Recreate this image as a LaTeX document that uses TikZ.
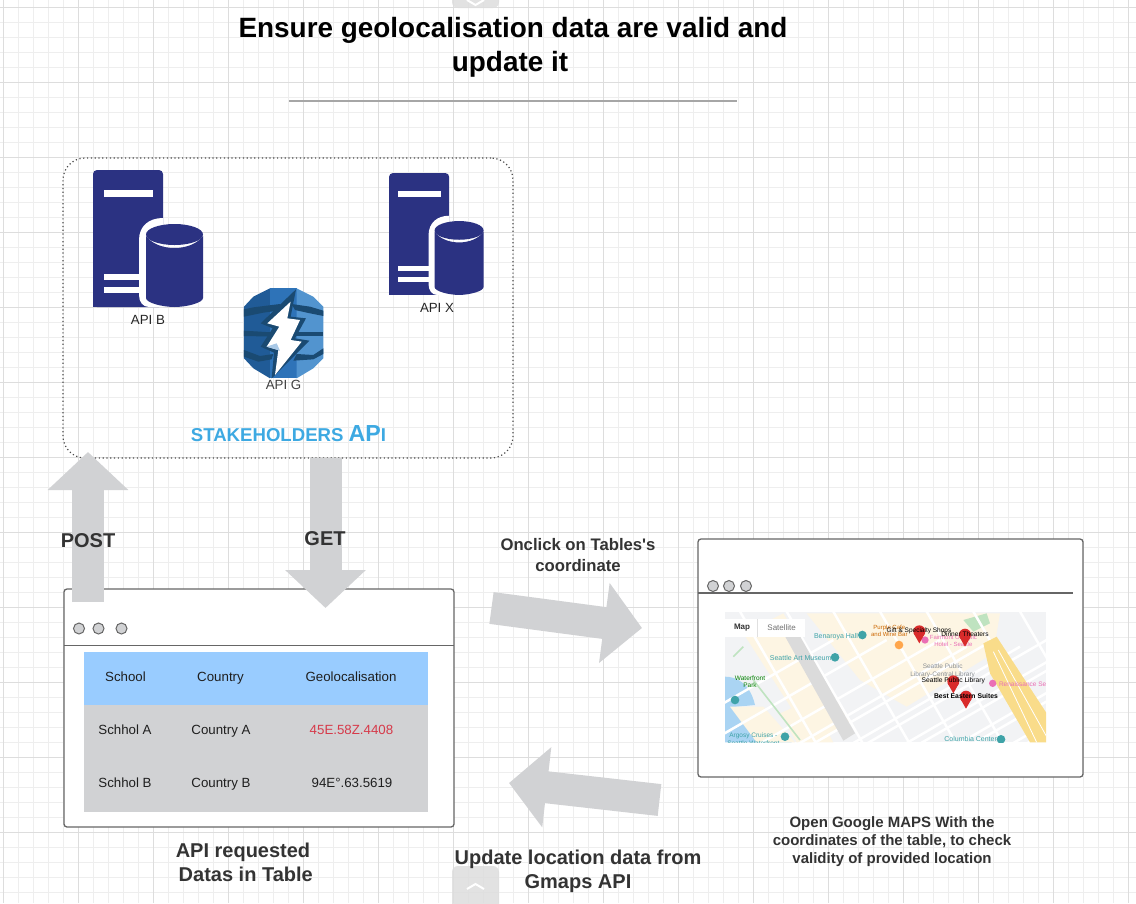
\documentclass[tikz,border=0pt]{standalone}
\usepackage{fontspec}
\setmainfont{Liberation Sans}
\usetikzlibrary{arrows.meta}
\definecolor{gridminor}{HTML}{EEEEEE}
\definecolor{gridmajor}{HTML}{DDDDDD}
\definecolor{navy}{HTML}{2B3282}
\definecolor{blockgrey}{HTML}{D1D2D4}
\definecolor{winline}{HTML}{666666}
\definecolor{headblue}{HTML}{99CCFF}
\definecolor{skyblue}{HTML}{3DA9E2}
\definecolor{inkdark}{HTML}{333333}
\definecolor{dyA}{HTML}{205B97}
\definecolor{dyB}{HTML}{2E73B8}
\definecolor{dyC}{HTML}{5294CF}
\definecolor{dyD}{HTML}{1A4A72}
\definecolor{mapbg}{HTML}{F2F3F5}
\definecolor{mapcream}{HTML}{FDF5E3}
\definecolor{mapwater}{HTML}{AAD4F3}
\definecolor{mapyellow}{HTML}{F9DC8A}
\definecolor{mapgreen}{HTML}{BFE3C0}
\definecolor{mapteal}{HTML}{3FA3A8}
\definecolor{mappink}{HTML}{EA6FB5}
\definecolor{mapgrey}{HTML}{8A8F94}
\definecolor{pinred}{HTML}{D92B2B}
\tikzset{
  blockarrow/.style={line width=32pt,draw=blockgrey,-{Triangle[length=38pt,width=78.5pt]}},
  winbox/.style={draw=winline,line width=1.3pt,fill=white,rounded corners=3pt,inner sep=0pt},
  winrule/.style={draw=winline,line width=1.3pt},
  windot/.style={circle,draw=winline,fill=blockgrey,line width=1pt,minimum size=11pt,inner sep=0pt},
  cell/.style={font=\fontsize{13.3}{15}\selectfont,text=black!88,anchor=base,yshift=-4.6pt},
  apilabel/.style={font=\fontsize{13.3}{15}\selectfont,text=black!85},
  boldlab/.style={font=\bfseries\fontsize{20}{24}\selectfont,text=inkdark,align=center},
  zoomframe/.style={x=0.33333pt,y=-0.33333pt},
  road/.style={draw=white,line width=2.5pt},
  maplabel/.style={font=\fontsize{7}{8}\selectfont,inner sep=0pt},
  tab/.style={fill=gridmajor,fill opacity=0.85,rounded corners=6pt},
  chevron/.style={draw=white,line width=2pt},
  server/.pic={
    \fill[navy,rounded corners=4pt] (0,0) -- (70,0) -- (70,137) -- (0,137) -- cycle;
    \fill[navy] (0,120) rectangle (20,137);
    \fill[white] (11,20) rectangle (60,27);
    \fill[white] (11,104) rectangle (60,110);
    \fill[white] (11,117) rectangle (60,123);
    \fill[white] (46,70) .. controls (46,56) and (56,48) .. (70,48) -- (70,137) -- (56,137) .. controls (50,137) and (46,132) .. (46,125) -- cycle;
    \fill[navy] (53,66) -- (53,128) .. controls (53,133) and (70,137) .. (81.5,137) .. controls (93,137) and (110,133) .. (110,128) -- (110,66) .. controls (104,74) and (93,78) .. (81.5,78) .. controls (70,78) and (59,74) .. (53,66) -- cycle;
    \fill[navy] (81.5,64.5) ellipse [x radius=28.5, y radius=10.5];
  }
}
\begin{document}
\begin{tikzpicture}[x=1pt,y=-1pt]
\useasboundingbox (0,0) rectangle (1136,903);
\fill[white] (0,0) rectangle (1136,903);
% grid
\foreach \gx in {18,33,...,1136} \draw[gridminor,line width=1pt] (\gx,0) -- (\gx,903);
\foreach \gy in {7,22,...,903} \draw[gridminor,line width=1pt] (0,\gy) -- (1136,\gy);
\foreach \gx in {3,78,...,1136} \draw[gridmajor,line width=1pt] (\gx,0) -- (\gx,903);
\foreach \gy in {7,82,...,903} \draw[gridmajor,line width=1pt] (0,\gy) -- (1136,\gy);
% tabs at page edges
\fill[tab] (452,-12) rectangle (499,8);
\draw[chevron] (467,0) -- (475.5,5) -- (484,0);
\fill[tab] (452,866) rectangle (499,915);
\draw[chevron] (467,889) -- (475.5,884) -- (484,889);
% title
\node[font=\bfseries\fontsize{27.9}{34}\selectfont,align=center,text=black] (title) at (513,47.5) {Ensure geolocalisation data are valid and\\update it\hspace*{6pt}};
\coordinate (ruleL) at (289,101);
\coordinate (ruleR) at (737,101);
\draw[draw=black!35,line width=1.2pt] (ruleL) -- (ruleR);
% API panel
\node[draw=black!70,dash pattern=on 1.2pt off 2.6pt,line width=1.2pt,rounded corners=22pt,minimum width=450pt,minimum height=300pt,inner sep=0pt] (panel) at (288,308) {};
\pic at (93,170) {server};
\node[apilabel] (apib) at (148,320) {API B};
\pic[xscale=0.86,yscale=0.89] at (389,173) {server};
\node[apilabel] (apix) at (437,308) {API X};
% DynamoDB icon
\begin{scope}[shift={(50,150)},zoomframe]
  \fill[dyA] (660,415) -- (610,440) -- (582,470) -- (582,625) -- (610,655) -- (660,685) -- cycle;
  \fill[dyB] (660,415) -- (740,415) -- (740,685) -- (660,685) -- cycle;
  \fill[dyC] (740,415) -- (790,440) -- (820,470) -- (820,625) -- (790,655) -- (740,685) -- cycle;
  \fill[dyD] (582,478) -- (610,472) -- (690,462) -- (700,480) -- (640,488) -- (582,500) -- cycle;
  \fill[dyD] (725,462) -- (780,470) -- (820,482) -- (820,498) -- (780,490) -- (735,480) -- cycle;
  \fill[dyD] (582,542) -- (680,548) -- (680,560) -- (582,558) -- cycle;
  \fill[dyD] (725,545) -- (820,545) -- (820,558) -- (725,558) -- cycle;
  \fill[dyD] (582,600) -- (630,618) -- (670,612) -- (665,628) -- (625,635) -- (582,620) -- cycle;
  \fill[dyD] (740,612) -- (790,615) -- (820,595) -- (820,612) -- (790,628) -- (730,632) -- cycle;
  \fill[dyD] (738,418) -- (722,500) -- (768,505) -- (735,565) -- (778,572) -- (665,685) -- (672,608) -- (632,590) -- (668,535) -- (632,520) -- cycle;
  \fill[white] (722,455) -- (652,520) -- (688,530) -- (650,590) -- (685,600) -- (675,675) -- (755,575) -- (722,570) -- (750,510) -- (712,505) -- cycle;
  \fill[dyC!50!white] (650,590) -- (680,580) -- (690,602) -- cycle;
\end{scope}
\node[apilabel,text=black!75] (apig) at (283.5,385) {API G};
\node[inner sep=0pt,font=\bfseries\fontsize{18.6}{20}\selectfont,text=skyblue] (stake) at (288.5,434) {STAKEHOLDERS {\fontsize{23.2}{20}\selectfont AP}I};
% left window
\node[winbox,minimum width=390pt,minimum height=238pt] (winL) at (259,708) {};
\coordinate (winLa) at (64,645.5);
\coordinate (winLb) at (454,645.5);
\draw[winrule] (winLa) -- (winLb);
\node[windot] (dotLa) at (79,628.5) {};
\node[windot] (dotLb) at (98.5,628.5) {};
\node[windot] (dotLc) at (121.5,628.5) {};
\node[fill=headblue,minimum width=344pt,minimum height=53.5pt,inner sep=0pt] (thead) at (256,678.7) {};
\node[fill=blockgrey,minimum width=344pt,minimum height=107pt,inner sep=0pt] (tbody) at (256,758.9) {};
\node[cell] (c11) at (125.5,677) {School};
\node[cell] (c12) at (220.5,677) {Country};
\node[cell] (c13) at (351,677) {Geolocalisation};
\node[cell] (c21) at (125,730) {Schhol A};
\node[cell] (c22) at (221,730) {Country A};
\node[cell,text={rgb,255:red,214;green,58;blue,74}] (c23) at (351.5,730) {45E.58Z.4408};
\node[cell] (c31) at (125,783) {Schhol B};
\node[cell] (c32) at (221,783) {Country B};
\node[cell] (c33) at (352,783) {94E°.63.5619};
% block arrows
\coordinate (postS) at (88,602);
\coordinate (postE) at (88,452);
\coordinate (getS) at (325.5,458);
\coordinate (getE) at (325.5,608);
\coordinate (rightS) at (491.5,608);
\coordinate (rightE) at (642,628);
\coordinate (leftS) at (659.5,800);
\coordinate (leftE) at (509,783);
\draw[blockarrow] (postS) -- (postE);
\draw[blockarrow] (getS) -- (getE);
\draw[blockarrow] (rightS) -- (rightE);
\draw[blockarrow] (leftS) -- (leftE);
\node[boldlab] (post) at (88,541) {POST};
\node[boldlab] (get) at (325,539) {GET};
% right window
\node[winbox,minimum width=385pt,minimum height=238pt] (winR) at (890.5,658) {};
\coordinate (winRa) at (698,593);
\coordinate (winRb) at (1073,593);
\draw[winrule] (winRa) -- (winRb);
\node[windot] (dotRa) at (713,586) {};
\node[windot] (dotRb) at (729,586) {};
\node[windot] (dotRc) at (746,586) {};
% map
\begin{scope}[shift={(700,580)},zoomframe]
  \clip (75,97) rectangle (1038,487);
  \fill[mapbg] (75,97) rectangle (1038,487);
  \fill[mapcream] (320,100) -- (560,100) -- (900,100) -- (880,220) -- (620,380) -- (480,300) -- cycle;
  \fill[mapcream] (130,160) -- (250,100) -- (450,430) -- (340,487) -- cycle;
  \fill[mapcream] (240,400) -- (330,360) -- (400,487) -- (290,487) -- cycle;
  \fill[mapcream] (640,100) -- (780,100) -- (860,190) -- (720,260) -- cycle;
  \fill[mapgreen] (790,120) -- (860,100) -- (870,130) -- (820,155) -- cycle;
  \fill[mapwater] (75,290) .. controls (110,290) and (150,310) .. (165,375) -- (90,382) -- (190,392) -- (275,487) -- (75,487) -- cycle;
  \fill[mapcream] (90,380) -- (190,380) -- (285,487) -- (170,487) -- cycle;
  \foreach \sx in {-260,-100,60,220,380,540,700,860} \draw[road] (\sx,560) -- (\sx+660,180);
  \foreach \sx in {-160,0,160,320,480,640,800} \draw[road] (\sx+320,570) -- (\sx+960,200);
  \foreach \sx in {100,240,380,520,660,800,940} \draw[road] (\sx,60) -- (\sx+260,510);
  \fill[black!14] (250,160) -- (285,142) -- (465,460) -- (430,482) -- cycle;
  \fill[mapyellow] (850,190) -- (890,170) -- (1040,400) -- (1040,487) -- (990,487) -- (870,280) -- cycle;
  \draw[white,line width=0.8pt] (880,215) -- (1010,487);
  \draw[white,line width=0.8pt] (895,210) -- (1040,470);
  \draw[mapgreen,line width=1.6pt] (130,200) -- (100,230);
  \draw[mapgreen,line width=1.6pt] (160,300) -- (300,480);
  \fill[white] (75,117) rectangle (316,172);
  \draw[black!12] (173,117) -- (173,172);
  \node[maplabel,font=\bfseries\fontsize{8}{9}\selectfont,text=black!80] (mMap) at (126,144) {Map};
  \node[maplabel,font=\fontsize{8}{9}\selectfont,text=black!55] (mSat) at (245,144) {Satellite};
  \node[maplabel,text=mapteal] (mBen) at (408,171) {Benaroya Hall};
  \node[maplabel,text=mapteal] (mArt) at (302,235) {Seattle Art Museum};
  \node[maplabel,text=green!50!black,align=center,font=\fontsize{6.5}{7}\selectfont] (mWat) at (150,304) {Waterfront\\Park};
  \node[maplabel,text=mapteal,align=center,font=\fontsize{6.5}{8}\selectfont] (mArg) at (160,478) {Argosy Cruises -\\Seattle Waterfront};
  \node[maplabel,text=mapteal] (mCol) at (812,477) {Columbia Center};
  \node[maplabel,text=orange!80!black,align=center,font=\fontsize{6}{7}\selectfont] (mPur) at (568,152) {Purple Cafe\\and Wine Bar};
  \node[maplabel,text=mappink,align=center,font=\fontsize{6}{7}\selectfont] (mFai) at (760,183) {Fairmont Olympic\\Hotel - Seattle};
  \node[maplabel,text=mapgrey,align=center,font=\fontsize{6.5}{8}\selectfont] (mLib) at (728,273) {Seattle Public\\Library-Central Library};
  \node[maplabel,text=mappink,font=\fontsize{6.5}{8}\selectfont] (mRen) at (968,313) {Renaissance Se};
  \foreach \px/\py in {487/165,405/232,105/360,255/470,903/478} \fill[mapteal] (\px,\py) circle (13);
  \foreach \px/\py in {675/180,878/310} \fill[mappink] (\px,\py) circle (11);
  \fill[orange!70] (597,195) circle (13);
  \foreach \px/\py in {658/132,795/142,760/282,798/328} {
    \fill[pinred] (\px,\py+22) circle (18);
    \fill[pinred] (\px-17,\py+28) -- (\px+17,\py+28) -- (\px,\py+58) -- cycle;
  }
  \node[maplabel,text=black,font=\fontsize{6.5}{8}\selectfont] (pGif) at (657,152) {Gift \& Specialty Shops};
  \node[maplabel,text=black,font=\fontsize{6.6}{8}\selectfont] (pDin) at (795,162) {Dinner Theaters};
  \node[maplabel,text=black,font=\fontsize{6.7}{8}\selectfont] (pSea) at (760,302) {Seattle Public Library};
  \node[maplabel,text=black,font=\bfseries\fontsize{6.8}{8}\selectfont] (pBes) at (798,348) {Best Eastern Suites};
\end{scope}
% captions
\node[boldlab] (capL) at (243,862) {API requested\\ \ Datas in Table};
\node[boldlab] (capU) at (578,871) {Update location data from\\Gmaps API};
\node[boldlab,font=\bfseries\fontsize{15}{18}\selectfont] (capO) at (892,841.5) {Open Google MAPS With the\\coordinates of the table, to check\\validity of provided location};
\node[boldlab,font=\bfseries\fontsize{16.7}{20.5}\selectfont] (capC) at (578,555) {Onclick on Tables\textquotesingle s\\coordinate};
\end{tikzpicture}
\end{document}
